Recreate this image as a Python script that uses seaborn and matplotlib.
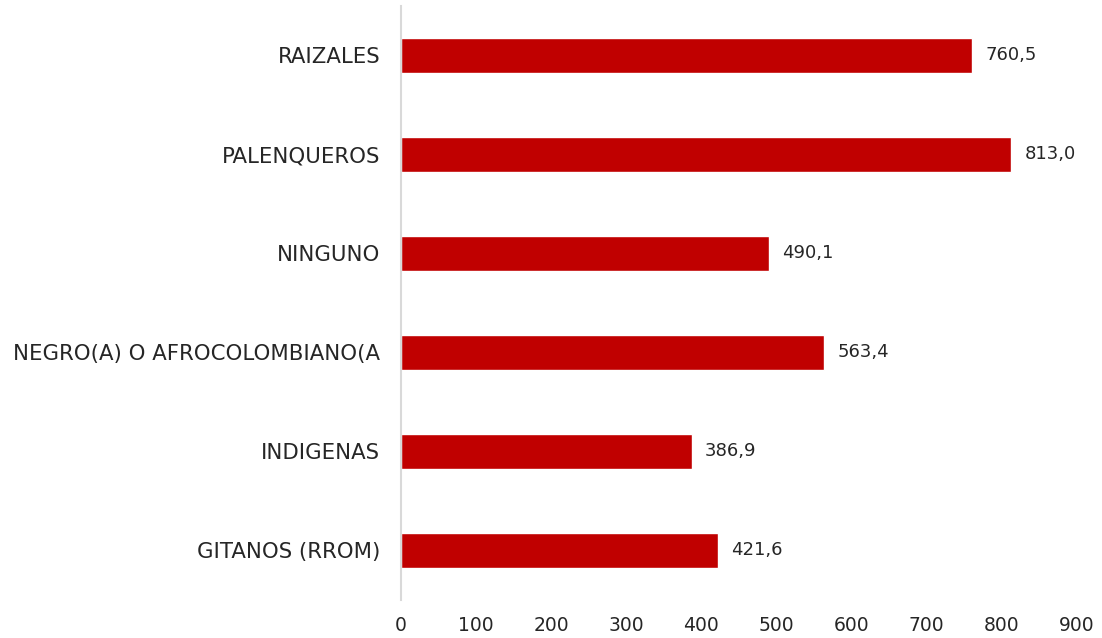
import matplotlib
matplotlib.use("Agg")
from matplotlib import pyplot as plt
import seaborn as sns
import pandas as pd

# Datos de la grafica
grupos = ["RAIZALES", "PALENQUEROS", "NINGUNO", "NEGRO(A) O AFROCOLOMBIANO(A",
          "INDIGENAS", "GITANOS (RROM)"]
valores = [760.5, 813.0, 490.1, 563.4, 386.9, 421.6]
ticks_x = [0, 100, 200, 300, 400, 500, 600, 700, 800, 900]

datos = pd.DataFrame({"grupo": grupos, "valor": valores})

sns.set_style("white")
plt.rcParams["font.family"] = ["DejaVu Sans"]
texto = "#262626"

fig = plt.figure(figsize=(11.02, 6.38), dpi=100)
ax = fig.add_axes([0.364, 0.060, 0.613, 0.931])

sns.barplot(data=datos, x="valor", y="grupo", color="#C00000", saturation=1,
            width=0.35, ax=ax)

# etiquetas de valor con coma decimal
for i, v in enumerate(valores):
    ax.text(v + 18, i, f"{v:.1f}".replace(".", ","), va="center", ha="left",
            fontsize=13, color=texto)

ax.set_xlim(0, 900)
ax.set_xticks(ticks_x)
ax.set_xlabel("")
ax.set_ylabel("")
ax.tick_params(axis="x", labelsize=13.5, colors=texto, length=0, pad=12)
ax.tick_params(axis="y", labelsize=15.3, colors=texto, length=0, pad=15)

for lado in ["top", "right", "bottom"]:
    ax.spines[lado].set_visible(False)
ax.spines["left"].set_color("#D9D9D9")
ax.spines["left"].set_linewidth(1.5)

fig.savefig("out.png", dpi=100)
